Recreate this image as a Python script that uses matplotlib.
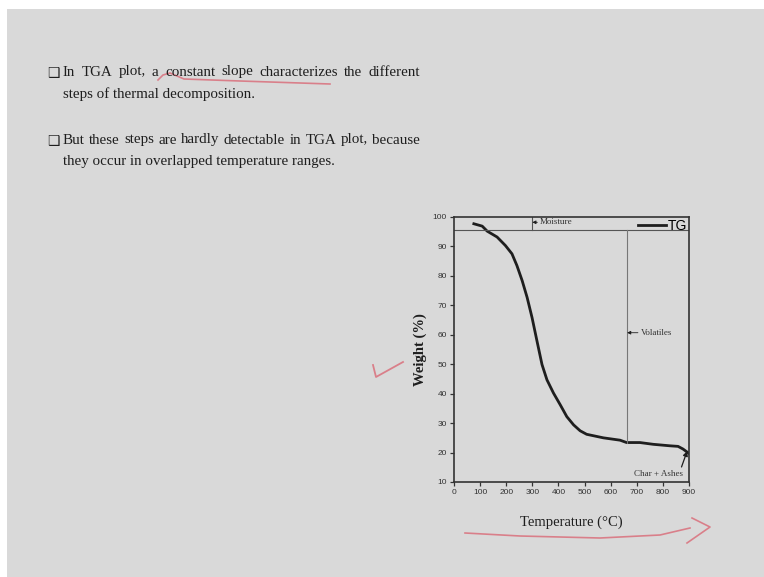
import matplotlib
matplotlib.use("Agg")
import matplotlib.pyplot as plt
from matplotlib.patches import Rectangle
import numpy as np

# TG curve (temperature in C, weight in %)
temp = [76, 108, 127, 165, 197, 222, 241, 261, 280, 299, 318, 337, 356, 381,
        407, 432, 458, 483, 508, 572, 636, 661, 712, 763, 826, 858, 877, 900]
weight = [97.7, 96.9, 95.2, 93.2, 90.3, 87.5, 83.5, 78.4, 72.7, 65.8, 57.8,
          49.9, 44.7, 40.2, 36.2, 32.2, 29.4, 27.4, 26.2, 25.0, 24.2, 23.4,
          23.4, 22.8, 22.3, 22.1, 21.2, 19.7]

x_ticks = list(range(0, 1000, 100))
y_ticks = list(range(10, 110, 10))

moisture_T = 300      # end of moisture step
volatiles_T = 663     # end of volatiles step
step_line_W = 95.5    # horizontal guide line

bullets = [
    ["In TGA plot, a constant slope characterizes the different",
     "steps of thermal decomposition."],
    ["But these steps are hardly detectable in TGA plot, because",
     "they occur in overlapped temperature ranges."],
]

BG = "#d9d9d9"
INK = "#1e1e1e"
PEN = "#d9707c"

fig = plt.figure(figsize=(7.64, 5.77), dpi=100, facecolor="white")
fig.patches.append(Rectangle((7 / 764, 0), 1, 568 / 577, transform=fig.transFigure,
                             facecolor=BG, edgecolor="none", zorder=-10))

# slide layer in pixel coordinates
bg = fig.add_axes([0, 0, 1, 1], zorder=0)
bg.set_xlim(0, 764)
bg.set_ylim(577, 0)
bg.axis("off")
bg.patch.set_visible(False)

serif = ["Liberation Serif", "DejaVu Serif"]
renderer = fig.canvas.get_renderer()


def put_line(text, x0, y, x1=None):
    # justified lines get their words spread out to x1
    if x1 is None:
        bg.text(x0, y, text, family=serif, fontsize=10.8, color=INK, va="center")
        return
    words = text.split()
    arts = [bg.text(x0, y, w, family=serif, fontsize=10.8, color=INK, va="center")
            for w in words]
    widths = [a.get_window_extent(renderer).width for a in arts]
    gap = ((x1 - x0) - sum(widths)) / (len(words) - 1)
    pos = x0
    for a, w in zip(arts, widths):
        a.set_x(pos)
        pos += w + gap


for i, (first, second) in enumerate(bullets):
    y0 = 72 + i * 68
    bg.text(47, y0 + 1, "\u2751", family=["DejaVu Sans"], fontsize=10, color=INK,
            va="center")
    put_line(first, 63, y0, 420)
    put_line(second, 63, y0 + 22)

# pen marks from the lecturer
bg.plot([158, 163, 170, 177, 184, 240, 300, 330], [80, 75, 73, 76, 79, 81, 83, 84],
        color=PEN, lw=1.2, alpha=0.85)
bg.plot([373, 376, 403], [365, 377, 362], color=PEN, lw=1.3, alpha=0.85)
bg.plot([465, 520, 600, 660, 690], [533, 536, 538, 535, 528], color=PEN, lw=1.2, alpha=0.85)
bg.plot([692, 710, 687], [518, 527, 543], color=PEN, lw=1.2, alpha=0.85)

# the TGA chart
ax = fig.add_axes([454 / 764, (577 - 482) / 577, 235 / 764, 265 / 577], zorder=2)
ax.patch.set_visible(False)
ax.plot(temp, weight, color=INK, lw=2.0, label="TG")
ax.axhline(step_line_W, color="#555555", lw=0.8)
ax.plot([moisture_T, moisture_T], [step_line_W, 100], color="#555555", lw=0.8)
ax.plot([volatiles_T, volatiles_T], [23.4, step_line_W], color="#777777", lw=0.8)

ax.set_xlim(0, 900)
ax.set_ylim(10, 100)
ax.set_xticks(x_ticks)
ax.set_yticks(y_ticks)
narrow = ["Liberation Sans Narrow", "Liberation Sans"]
for lab in ax.get_xticklabels() + ax.get_yticklabels():
    lab.set_family(narrow)
ax.tick_params(direction="out", length=3, width=0.9, labelsize=6, colors="#333333", pad=2)
for s in ax.spines.values():
    s.set_color("#333333")
    s.set_linewidth(1.2)

ax.set_xlabel("Temperature (\u00b0C)", family=serif, fontsize=10.5, color=INK, labelpad=14)
ax.set_ylabel("Weight (%)", family=serif, fontsize=10.5, fontweight="bold", color=INK,
              labelpad=4)

arrow = dict(arrowstyle="-|>", color=INK, lw=0.6, mutation_scale=5, shrinkA=0, shrinkB=0)
ax.annotate("Moisture", xy=(moisture_T, 98.2), xytext=(330, 98.2), family=serif,
            fontsize=6.5, color="#333333", va="center", arrowprops=arrow)
ax.annotate("Volatiles", xy=(volatiles_T, 60.7), xytext=(715, 60.7), family=serif,
            fontsize=6.5, color="#333333", va="center", arrowprops=arrow)
ax.annotate("Char + Ashes", xy=(893, 20.5), xytext=(782, 12.8), family=serif,
            fontsize=6.5, color="#333333", va="center", ha="center",
            arrowprops=dict(arrow, lw=0.9, mutation_scale=7, relpos=(0.95, 0.9)))

leg = ax.legend(loc="upper right", frameon=False, fontsize=10, handlelength=2.0,
                handletextpad=0.1, borderaxespad=0.05, borderpad=0.1)
for t in leg.get_texts():
    t.set_family(narrow)

fig.savefig("out.png", dpi=100, facecolor=fig.get_facecolor())
